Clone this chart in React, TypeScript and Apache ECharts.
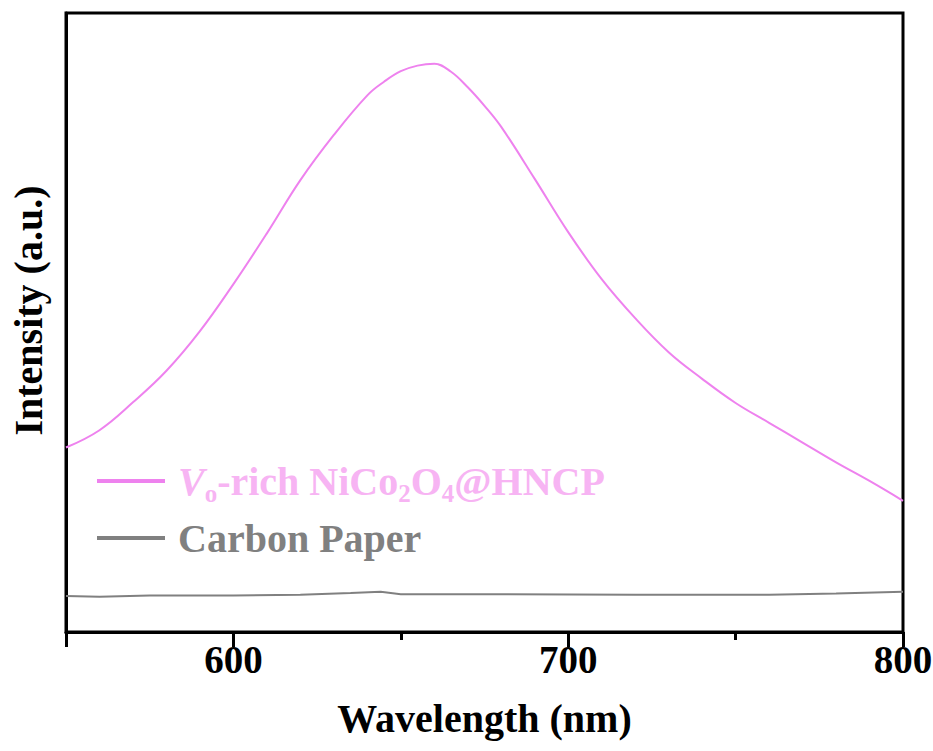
import React, { useEffect, useRef } from "react";
import * as echarts from "echarts";

const pinkWavelength = [550, 560, 570, 580, 590, 600, 610, 620, 630, 640, 645, 650, 655, 660, 665, 670, 675, 680, 690, 700, 710, 720, 730, 740, 750, 760, 770, 780, 790, 800];
const pinkIntensity = [29.8, 32.6, 37.1, 42.2, 48.6, 56.2, 64.4, 73.0, 80.3, 86.7, 88.9, 90.6, 91.5, 91.8, 90.5, 88.0, 85.0, 81.6, 73.2, 64.6, 57.0, 50.7, 45.2, 40.9, 37.0, 33.8, 30.6, 27.4, 24.4, 21.2];

const grayWavelength = [550, 560, 575, 600, 620, 635, 644, 650, 680, 720, 760, 780, 800];
const grayIntensity = [5.8, 5.7, 5.9, 5.9, 6.0, 6.3, 6.5, 6.1, 6.1, 6.0, 6.0, 6.2, 6.5];

const majorTickLabels = ["600", "700", "800"];
const seriesNames = ["Vo-rich NiCo2O4@HNCP", "Carbon Paper"];

const FONT = "Liberation Serif, Times New Roman, serif";
const PINK_LINE = "#EE82EE";
const PINK_TEXT = "#F7B4F3";
const GRAY = "#808080";

export default function App() {
  const ref = useRef<HTMLDivElement>(null);
  useEffect(() => {
    if (!ref.current) return;
    const chart = echarts.init(ref.current, undefined, { renderer: "svg" });
    const pinkData = pinkWavelength.map((w, i) => [w, pinkIntensity[i]]);
    const grayData = grayWavelength.map((w, i) => [w, grayIntensity[i]]);
    const gridPos = { left: 66, right: 30, top: 13, bottom: 119, outerBoundsMode: "none" };
    chart.setOption({
      animation: false,
      backgroundColor: "#fff",
      textStyle: { fontFamily: FONT },
      grid: [
        { ...gridPos, show: true, borderColor: "#000", borderWidth: 3 },
        { ...gridPos, show: false },
      ],
      legend: {
        orient: "vertical",
        left: 97,
        top: 461,
        padding: 0,
        itemGap: 12,
        itemWidth: 68,
        itemHeight: 4,
        icon: "rect",
        data: [
          { name: seriesNames[0], itemStyle: { color: PINK_LINE } },
          { name: seriesNames[1], itemStyle: { color: GRAY } },
        ],
        formatter: (name: string) =>
          name === seriesNames[0]
            ? "{vi|V}{sub|o}{m|-rich NiCo}{sub|2}{m|O}{sub|4}{m|@HNCP}"
            : "{g|Carbon Paper}",
        textStyle: {
          fontFamily: FONT,
          padding: [0, 0, 0, 8],
          rich: {
            vi: { fontFamily: FONT, fontSize: 40, fontWeight: "bold", fontStyle: "italic", color: PINK_TEXT, lineHeight: 50 },
            m: { fontFamily: FONT, fontSize: 40, fontWeight: "bold", color: PINK_TEXT, lineHeight: 50 },
            sub: { fontFamily: FONT, fontSize: 25, fontWeight: "bold", color: PINK_TEXT, lineHeight: 8, verticalAlign: "bottom" },
            g: { fontFamily: FONT, fontSize: 40, fontWeight: "bold", color: GRAY, lineHeight: 40 },
          },
        },
      },
      xAxis: [
        {
          type: "value",
          gridIndex: 0,
          min: 550,
          max: 800,
          interval: 50,
          axisLine: { show: true, lineStyle: { color: "#000", width: 3 } },
          axisTick: { show: true, length: 8, lineStyle: { color: "#000", width: 3 } },
          axisLabel: {
            margin: 8,
            fontFamily: FONT,
            fontSize: 39,
            fontWeight: "bold",
            color: "#000",
            formatter: (v: number) => (majorTickLabels.includes(String(v)) ? String(v) : ""),
          },
          splitLine: { show: false },
          name: "Wavelength (nm)",
          nameLocation: "middle",
          nameGap: 66,
          nameTextStyle: { fontFamily: FONT, fontSize: 40, fontWeight: "bold", color: "#000" },
        },
        {
          type: "value",
          gridIndex: 1,
          inverse: true,
          min: 0,
          max: 250,
          interval: 100,
          position: "bottom",
          axisLine: { show: false },
          axisTick: { show: true, length: 15, lineStyle: { color: "#000", width: 3 } },
          axisLabel: { show: false },
          splitLine: { show: false },
        },
      ],
      yAxis: [
        {
          type: "value",
          gridIndex: 0,
          min: 0,
          max: 100,
          axisLine: { show: true, lineStyle: { color: "#000", width: 3 } },
          axisTick: { show: false },
          axisLabel: { show: false },
          splitLine: { show: false },
          name: "Intensity (a.u.)",
          nameLocation: "middle",
          nameGap: 18,
          nameTextStyle: { fontFamily: FONT, fontSize: 40, fontWeight: "bold", color: "#000", padding: [0, 0, 0, 24] },
        },
        {
          type: "value",
          gridIndex: 1,
          min: 0,
          max: 100,
          show: false,
        },
      ],
      series: [
        {
          name: seriesNames[0],
          type: "line",
          xAxisIndex: 0,
          yAxisIndex: 0,
          data: pinkData,
          smooth: 0.4,
          symbol: "none",
          lineStyle: { color: PINK_LINE, width: 2 },
          itemStyle: { color: PINK_LINE },
        },
        {
          name: seriesNames[1],
          type: "line",
          xAxisIndex: 0,
          yAxisIndex: 0,
          data: grayData,
          symbol: "none",
          lineStyle: { color: GRAY, width: 2 },
          itemStyle: { color: GRAY },
        },
      ],
    });
    return () => chart.dispose();
  }, []);
  return <div ref={ref} style={{ position: "fixed", left: 0, top: 0, width: 933, height: 751 }} />;
}
